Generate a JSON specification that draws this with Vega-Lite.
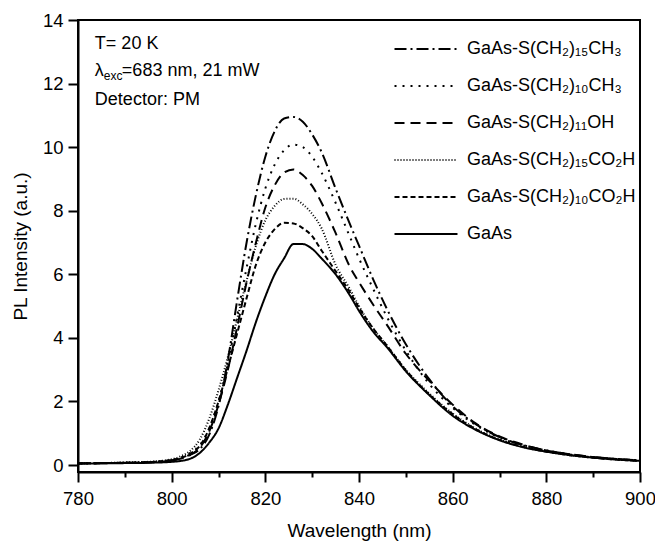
{
  "$schema": "https://vega.github.io/schema/vega-lite/v6.json",
  "width": 562,
  "height": 452,
  "autosize": {"type": "none"},
  "padding": {"left": 78, "top": 20, "right": 15, "bottom": 70},
  "background": "white",
  "config": {
    "font": "Liberation Sans",
    "view": {"stroke": "black", "strokeWidth": 2},
    "axis": {
      "grid": false,
      "domainColor": "black",
      "domainWidth": 2,
      "tickColor": "black",
      "tickWidth": 2,
      "labelColor": "black",
      "titleColor": "black",
      "labelFont": "Liberation Sans",
      "titleFont": "Liberation Sans",
      "labelFontSize": 18.5,
      "titleFontSize": 19,
      "titleFontWeight": "normal"
    }
  },
  "datasets": {
    "pl": [
      {"nm": 780, "GaAs-S(CH₂)₁₅CH₃": 0.05, "GaAs-S(CH₂)₁₀CH₃": 0.05, "GaAs-S(CH₂)₁₁OH": 0.05, "GaAs-S(CH₂)₁₅CO₂H": 0.05, "GaAs-S(CH₂)₁₀CO₂H": 0.05, "GaAs": 0.05},
      {"nm": 785, "GaAs-S(CH₂)₁₅CH₃": 0.06, "GaAs-S(CH₂)₁₀CH₃": 0.06, "GaAs-S(CH₂)₁₁OH": 0.06, "GaAs-S(CH₂)₁₅CO₂H": 0.06, "GaAs-S(CH₂)₁₀CO₂H": 0.06, "GaAs": 0.05},
      {"nm": 790, "GaAs-S(CH₂)₁₅CH₃": 0.07, "GaAs-S(CH₂)₁₀CH₃": 0.07, "GaAs-S(CH₂)₁₁OH": 0.07, "GaAs-S(CH₂)₁₅CO₂H": 0.08, "GaAs-S(CH₂)₁₀CO₂H": 0.07, "GaAs": 0.06},
      {"nm": 795, "GaAs-S(CH₂)₁₅CH₃": 0.09, "GaAs-S(CH₂)₁₀CH₃": 0.09, "GaAs-S(CH₂)₁₁OH": 0.08, "GaAs-S(CH₂)₁₅CO₂H": 0.1, "GaAs-S(CH₂)₁₀CO₂H": 0.09, "GaAs": 0.07},
      {"nm": 800, "GaAs-S(CH₂)₁₅CH₃": 0.15, "GaAs-S(CH₂)₁₀CH₃": 0.16, "GaAs-S(CH₂)₁₁OH": 0.14, "GaAs-S(CH₂)₁₅CO₂H": 0.18, "GaAs-S(CH₂)₁₀CO₂H": 0.15, "GaAs": 0.1},
      {"nm": 802, "GaAs-S(CH₂)₁₅CH₃": 0.22, "GaAs-S(CH₂)₁₀CH₃": 0.24, "GaAs-S(CH₂)₁₁OH": 0.2, "GaAs-S(CH₂)₁₅CO₂H": 0.28, "GaAs-S(CH₂)₁₀CO₂H": 0.22, "GaAs": 0.13},
      {"nm": 804, "GaAs-S(CH₂)₁₅CH₃": 0.33, "GaAs-S(CH₂)₁₀CH₃": 0.38, "GaAs-S(CH₂)₁₁OH": 0.32, "GaAs-S(CH₂)₁₅CO₂H": 0.45, "GaAs-S(CH₂)₁₀CO₂H": 0.36, "GaAs": 0.2},
      {"nm": 806, "GaAs-S(CH₂)₁₅CH₃": 0.5, "GaAs-S(CH₂)₁₀CH₃": 0.62, "GaAs-S(CH₂)₁₁OH": 0.55, "GaAs-S(CH₂)₁₅CO₂H": 0.8, "GaAs-S(CH₂)₁₀CO₂H": 0.6, "GaAs": 0.38},
      {"nm": 808, "GaAs-S(CH₂)₁₅CH₃": 0.95, "GaAs-S(CH₂)₁₀CH₃": 1.15, "GaAs-S(CH₂)₁₁OH": 1.05, "GaAs-S(CH₂)₁₅CO₂H": 1.45, "GaAs-S(CH₂)₁₀CO₂H": 1.15, "GaAs": 0.7},
      {"nm": 810, "GaAs-S(CH₂)₁₅CH₃": 1.85, "GaAs-S(CH₂)₁₀CH₃": 2.0, "GaAs-S(CH₂)₁₁OH": 1.9, "GaAs-S(CH₂)₁₅CO₂H": 2.35, "GaAs-S(CH₂)₁₀CO₂H": 2.0, "GaAs": 1.15},
      {"nm": 812, "GaAs-S(CH₂)₁₅CH₃": 3.3, "GaAs-S(CH₂)₁₀CH₃": 3.2, "GaAs-S(CH₂)₁₁OH": 3.0, "GaAs-S(CH₂)₁₅CO₂H": 3.4, "GaAs-S(CH₂)₁₀CO₂H": 3.05, "GaAs": 1.9},
      {"nm": 814, "GaAs-S(CH₂)₁₅CH₃": 5.2, "GaAs-S(CH₂)₁₀CH₃": 4.7, "GaAs-S(CH₂)₁₁OH": 4.35, "GaAs-S(CH₂)₁₅CO₂H": 4.6, "GaAs-S(CH₂)₁₀CO₂H": 4.15, "GaAs": 2.75},
      {"nm": 816, "GaAs-S(CH₂)₁₅CH₃": 7.0, "GaAs-S(CH₂)₁₀CH₃": 6.2, "GaAs-S(CH₂)₁₁OH": 5.75, "GaAs-S(CH₂)₁₅CO₂H": 5.8, "GaAs-S(CH₂)₁₀CO₂H": 5.25, "GaAs": 3.6},
      {"nm": 818, "GaAs-S(CH₂)₁₅CH₃": 8.5, "GaAs-S(CH₂)₁₀CH₃": 7.6, "GaAs-S(CH₂)₁₁OH": 7.0, "GaAs-S(CH₂)₁₅CO₂H": 6.9, "GaAs-S(CH₂)₁₀CO₂H": 6.3, "GaAs": 4.5},
      {"nm": 820, "GaAs-S(CH₂)₁₅CH₃": 9.7, "GaAs-S(CH₂)₁₀CH₃": 8.7, "GaAs-S(CH₂)₁₁OH": 8.1, "GaAs-S(CH₂)₁₅CO₂H": 7.7, "GaAs-S(CH₂)₁₀CO₂H": 7.0, "GaAs": 5.3},
      {"nm": 822, "GaAs-S(CH₂)₁₅CH₃": 10.5, "GaAs-S(CH₂)₁₀CH₃": 9.45, "GaAs-S(CH₂)₁₁OH": 8.8, "GaAs-S(CH₂)₁₅CO₂H": 8.15, "GaAs-S(CH₂)₁₀CO₂H": 7.42, "GaAs": 6.0},
      {"nm": 824, "GaAs-S(CH₂)₁₅CH₃": 10.9, "GaAs-S(CH₂)₁₀CH₃": 9.9, "GaAs-S(CH₂)₁₁OH": 9.2, "GaAs-S(CH₂)₁₅CO₂H": 8.37, "GaAs-S(CH₂)₁₀CO₂H": 7.62, "GaAs": 6.5},
      {"nm": 826, "GaAs-S(CH₂)₁₅CH₃": 10.95, "GaAs-S(CH₂)₁₀CH₃": 10.08, "GaAs-S(CH₂)₁₁OH": 9.3, "GaAs-S(CH₂)₁₅CO₂H": 8.38, "GaAs-S(CH₂)₁₀CO₂H": 7.6, "GaAs": 6.95},
      {"nm": 828, "GaAs-S(CH₂)₁₅CH₃": 10.8, "GaAs-S(CH₂)₁₀CH₃": 10.0, "GaAs-S(CH₂)₁₁OH": 9.12, "GaAs-S(CH₂)₁₅CO₂H": 8.2, "GaAs-S(CH₂)₁₀CO₂H": 7.45, "GaAs": 6.95},
      {"nm": 830, "GaAs-S(CH₂)₁₅CH₃": 10.4, "GaAs-S(CH₂)₁₀CH₃": 9.7, "GaAs-S(CH₂)₁₁OH": 8.78, "GaAs-S(CH₂)₁₅CO₂H": 7.9, "GaAs-S(CH₂)₁₀CO₂H": 7.2, "GaAs": 6.8},
      {"nm": 832, "GaAs-S(CH₂)₁₅CH₃": 9.85, "GaAs-S(CH₂)₁₀CH₃": 9.2, "GaAs-S(CH₂)₁₁OH": 8.25, "GaAs-S(CH₂)₁₅CO₂H": 7.45, "GaAs-S(CH₂)₁₀CO₂H": 6.75, "GaAs": 6.5},
      {"nm": 835, "GaAs-S(CH₂)₁₅CH₃": 8.7, "GaAs-S(CH₂)₁₀CH₃": 8.25, "GaAs-S(CH₂)₁₁OH": 7.3, "GaAs-S(CH₂)₁₅CO₂H": 6.3, "GaAs-S(CH₂)₁₀CO₂H": 6.1, "GaAs": 6.0},
      {"nm": 838, "GaAs-S(CH₂)₁₅CH₃": 7.6, "GaAs-S(CH₂)₁₀CH₃": 7.2, "GaAs-S(CH₂)₁₁OH": 6.25, "GaAs-S(CH₂)₁₅CO₂H": 5.55, "GaAs-S(CH₂)₁₀CO₂H": 5.45, "GaAs": 5.35},
      {"nm": 840, "GaAs-S(CH₂)₁₅CH₃": 6.9, "GaAs-S(CH₂)₁₀CH₃": 6.5, "GaAs-S(CH₂)₁₁OH": 5.75, "GaAs-S(CH₂)₁₅CO₂H": 5.0, "GaAs-S(CH₂)₁₀CO₂H": 4.95, "GaAs": 4.85},
      {"nm": 843, "GaAs-S(CH₂)₁₅CH₃": 5.85, "GaAs-S(CH₂)₁₀CH₃": 5.55, "GaAs-S(CH₂)₁₁OH": 5.05, "GaAs-S(CH₂)₁₅CO₂H": 4.3, "GaAs-S(CH₂)₁₀CO₂H": 4.3, "GaAs": 4.2},
      {"nm": 846, "GaAs-S(CH₂)₁₅CH₃": 4.9, "GaAs-S(CH₂)₁₀CH₃": 4.65, "GaAs-S(CH₂)₁₁OH": 4.4, "GaAs-S(CH₂)₁₅CO₂H": 3.75, "GaAs-S(CH₂)₁₀CO₂H": 3.75, "GaAs": 3.7},
      {"nm": 850, "GaAs-S(CH₂)₁₅CH₃": 3.8, "GaAs-S(CH₂)₁₀CH₃": 3.6, "GaAs-S(CH₂)₁₁OH": 3.5, "GaAs-S(CH₂)₁₅CO₂H": 3.0, "GaAs-S(CH₂)₁₀CO₂H": 2.98, "GaAs": 2.95},
      {"nm": 855, "GaAs-S(CH₂)₁₅CH₃": 2.7, "GaAs-S(CH₂)₁₀CH₃": 2.55, "GaAs-S(CH₂)₁₁OH": 2.65, "GaAs-S(CH₂)₁₅CO₂H": 2.25, "GaAs-S(CH₂)₁₀CO₂H": 2.22, "GaAs": 2.2},
      {"nm": 860, "GaAs-S(CH₂)₁₅CH₃": 1.85, "GaAs-S(CH₂)₁₀CH₃": 1.8, "GaAs-S(CH₂)₁₁OH": 1.9, "GaAs-S(CH₂)₁₅CO₂H": 1.62, "GaAs-S(CH₂)₁₀CO₂H": 1.6, "GaAs": 1.55},
      {"nm": 865, "GaAs-S(CH₂)₁₅CH₃": 1.28, "GaAs-S(CH₂)₁₀CH₃": 1.25, "GaAs-S(CH₂)₁₁OH": 1.3, "GaAs-S(CH₂)₁₅CO₂H": 1.14, "GaAs-S(CH₂)₁₀CO₂H": 1.12, "GaAs": 1.1},
      {"nm": 870, "GaAs-S(CH₂)₁₅CH₃": 0.88, "GaAs-S(CH₂)₁₀CH₃": 0.86, "GaAs-S(CH₂)₁₁OH": 0.9, "GaAs-S(CH₂)₁₅CO₂H": 0.8, "GaAs-S(CH₂)₁₀CO₂H": 0.79, "GaAs": 0.78},
      {"nm": 875, "GaAs-S(CH₂)₁₅CH₃": 0.63, "GaAs-S(CH₂)₁₀CH₃": 0.62, "GaAs-S(CH₂)₁₁OH": 0.64, "GaAs-S(CH₂)₁₅CO₂H": 0.58, "GaAs-S(CH₂)₁₀CO₂H": 0.57, "GaAs": 0.56},
      {"nm": 880, "GaAs-S(CH₂)₁₅CH₃": 0.46, "GaAs-S(CH₂)₁₀CH₃": 0.45, "GaAs-S(CH₂)₁₁OH": 0.46, "GaAs-S(CH₂)₁₅CO₂H": 0.43, "GaAs-S(CH₂)₁₀CO₂H": 0.42, "GaAs": 0.42},
      {"nm": 885, "GaAs-S(CH₂)₁₅CH₃": 0.34, "GaAs-S(CH₂)₁₀CH₃": 0.33, "GaAs-S(CH₂)₁₁OH": 0.34, "GaAs-S(CH₂)₁₅CO₂H": 0.32, "GaAs-S(CH₂)₁₀CO₂H": 0.31, "GaAs": 0.31},
      {"nm": 890, "GaAs-S(CH₂)₁₅CH₃": 0.25, "GaAs-S(CH₂)₁₀CH₃": 0.24, "GaAs-S(CH₂)₁₁OH": 0.25, "GaAs-S(CH₂)₁₅CO₂H": 0.24, "GaAs-S(CH₂)₁₀CO₂H": 0.23, "GaAs": 0.23},
      {"nm": 895, "GaAs-S(CH₂)₁₅CH₃": 0.19, "GaAs-S(CH₂)₁₀CH₃": 0.18, "GaAs-S(CH₂)₁₁OH": 0.19, "GaAs-S(CH₂)₁₅CO₂H": 0.18, "GaAs-S(CH₂)₁₀CO₂H": 0.17, "GaAs": 0.17},
      {"nm": 900, "GaAs-S(CH₂)₁₅CH₃": 0.15, "GaAs-S(CH₂)₁₀CH₃": 0.14, "GaAs-S(CH₂)₁₁OH": 0.14, "GaAs-S(CH₂)₁₅CO₂H": 0.13, "GaAs-S(CH₂)₁₀CO₂H": 0.13, "GaAs": 0.13}
    ],
    "notes": [
      {"x": 783.6, "y": 13.23, "t": "T= 20 K"},
      {"x": 783.6, "y": 11.47, "t": "Detector: PM"}
    ],
    "lam": [{"x": 783.6, "y": 12.38, "a": "λ", "b": "exc", "c": "=683 nm, 21 mW"}]
  },
  "layer": [
    {
      "data": {"name": "pl"},
      "transform": [
        {"fold": ["GaAs-S(CH₂)₁₅CH₃", "GaAs-S(CH₂)₁₀CH₃", "GaAs-S(CH₂)₁₁OH", "GaAs-S(CH₂)₁₅CO₂H", "GaAs-S(CH₂)₁₀CO₂H", "GaAs"], "as": ["sample", "v"]}
      ],
      "mark": {"type": "line", "color": "black", "strokeWidth": 2, "interpolate": "monotone", "clip": true},
      "encoding": {
        "x": {
          "field": "nm", "type": "quantitative",
          "scale": {"domain": [780, 900], "nice": false, "zero": false},
          "axis": {
            "values": [780, 790, 800, 810, 820, 830, 840, 850, 860, 870, 880, 890, 900],
            "tickSize": {"condition": {"test": "datum.value % 20 === 0", "value": 10}, "value": 5},
            "labelExpr": "datum.value % 20 === 0 ? datum.label : ''",
            "labelPadding": 7,
            "labelFlush": false,
            "title": "Wavelength (nm)",
            "titlePadding": 14
          }
        },
        "y": {
          "field": "v", "type": "quantitative",
          "scale": {"domain": [-0.22, 14], "nice": false, "zero": false},
          "axis": {
            "values": [0, 1, 2, 3, 4, 5, 6, 7, 8, 9, 10, 11, 12, 13, 14],
            "tickSize": {"condition": {"test": "datum.value % 2 === 0", "value": 10}, "value": 5},
            "labelExpr": "datum.value % 2 === 0 ? datum.label : ''",
            "labelPadding": 5,
            "labelFlush": false,
            "title": "PL Intensity (a.u.)",
            "titlePadding": 12
          }
        },
        "strokeDash": {
          "field": "sample", "type": "nominal",
          "scale": {
            "domain": ["GaAs-S(CH₂)₁₅CH₃", "GaAs-S(CH₂)₁₀CH₃", "GaAs-S(CH₂)₁₁OH", "GaAs-S(CH₂)₁₅CO₂H", "GaAs-S(CH₂)₁₀CO₂H", "GaAs"],
            "range": [[12, 4, 2, 4], [2, 6], [10, 6], [1, 2], [5, 3], [1, 0]]
          },
          "legend": {
            "orient": "none",
            "legendX": 331,
            "legendY": 12,
            "title": null,
            "symbolType": "M-2,0H2",
            "symbolSize": 992,
            "symbolStrokeWidth": 2,
            "symbolStrokeColor": "black",
            "symbolFillColor": "transparent",
            "labelFontSize": 18,
            "labelFont": "Liberation Sans",
            "labelColor": "black",
            "labelLimit": 300,
            "labelOffset": 24,
            "rowPadding": 11
          }
        }
      }
    },
    {
      "data": {"name": "notes"},
      "mark": {"type": "text", "align": "left", "baseline": "middle", "fontSize": 18, "font": "Liberation Sans", "color": "black"},
      "encoding": {
        "x": {"field": "x", "type": "quantitative"},
        "y": {"field": "y", "type": "quantitative"},
        "text": {"field": "t"}
      }
    },
    {
      "data": {"name": "lam"},
      "mark": {"type": "text", "align": "left", "baseline": "middle", "fontSize": 18, "font": "Liberation Sans", "color": "black"},
      "encoding": {
        "x": {"field": "x", "type": "quantitative"},
        "y": {"field": "y", "type": "quantitative"},
        "text": {"field": "a"}
      }
    },
    {
      "data": {"name": "lam"},
      "mark": {"type": "text", "align": "left", "baseline": "middle", "fontSize": 12, "dx": 9, "dy": 5, "font": "Liberation Sans", "color": "black"},
      "encoding": {
        "x": {"field": "x", "type": "quantitative"},
        "y": {"field": "y", "type": "quantitative"},
        "text": {"field": "b"}
      }
    },
    {
      "data": {"name": "lam"},
      "mark": {"type": "text", "align": "left", "baseline": "middle", "fontSize": 18, "dx": 27, "font": "Liberation Sans", "color": "black"},
      "encoding": {
        "x": {"field": "x", "type": "quantitative"},
        "y": {"field": "y", "type": "quantitative"},
        "text": {"field": "c"}
      }
    }
  ]
}
